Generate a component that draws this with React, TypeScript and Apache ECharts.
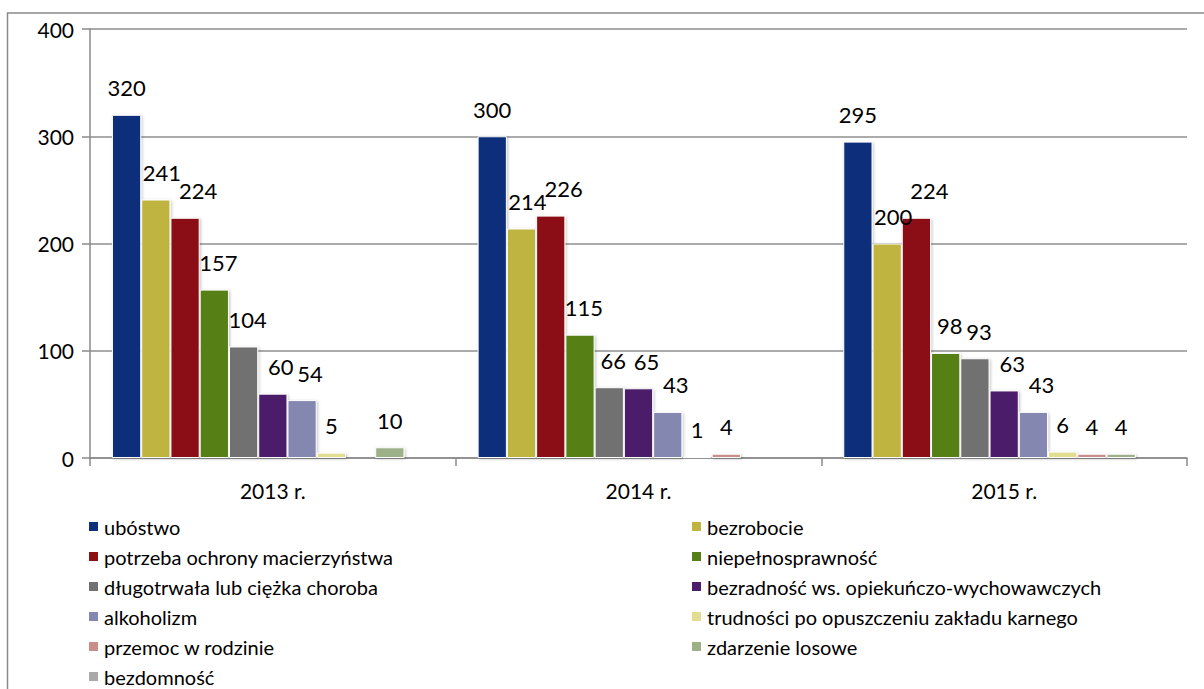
import React, { useEffect, useRef } from "react";
import * as echarts from "echarts";

const categories = ["2013 r.", "2014 r.", "2015 r."];
const seriesNames = [
  "ubóstwo",
  "bezrobocie",
  "potrzeba ochrony macierzyństwa",
  "niepełnosprawność",
  "długotrwała lub ciężka choroba",
  "bezradność ws. opiekuńczo-wychowawczych",
  "alkoholizm",
  "trudności po opuszczeniu zakładu karnego",
  "przemoc w rodzinie",
  "zdarzenie losowe",
  "bezdomność",
];
const ubostwo = [320, 300, 295];
const bezrobocie = [241, 214, 200];
const potrzeba = [224, 226, 224];
const niepelnosprawnosc = [157, 115, 98];
const choroba = [104, 66, 93];
const bezradnosc = [60, 65, 63];
const alkoholizm = [54, 43, 43];
const trudnosci = [5, 1, 6];
const przemoc = [0, 4, 4];
const zdarzenie = [10, 0, 4];
const bezdomnosc = [0, 0, 0];
const seriesValues = [
  ubostwo, bezrobocie, potrzeba, niepelnosprawnosc, choroba, bezradnosc,
  alkoholizm, trudnosci, przemoc, zdarzenie, bezdomnosc,
];
const colors = [
  "#0E2F7A", "#BFB43F", "#8B1112", "#577F19", "#717171", "#4B1E6B",
  "#8488B0", "#E2DD91", "#C98E8C", "#9CB187", "#A9A9A9",
];
const labelShift = [0, 6, 13, 4, 4, 8, 8, 0, 0, 0, 0];
const yTicks = [0, 100, 200, 300, 400];

const FONT = "Lato, 'Liberation Sans', sans-serif";

export default function App() {
  const ref = useRef<HTMLDivElement>(null);
  useEffect(() => {
    if (!ref.current) return;
    const chart = echarts.init(ref.current, null, { renderer: "svg" });
    const leftNames = seriesNames.filter((_, i) => i % 2 === 0);
    const rightNames = seriesNames.filter((_, i) => i % 2 === 1);
    const legendCommon = {
      orient: "vertical" as const,
      top: 516,
      height: 190,
      padding: 0,
      itemWidth: 11,
      itemHeight: 11,
      itemGap: 9,
      icon: "rect",
      textStyle: { fontFamily: FONT, fontSize: 20, color: "#000", lineHeight: 21 },
      selectedMode: false,
    };
    chart.setOption({
      animation: false,
      color: colors,
      textStyle: { fontFamily: FONT },
      graphic: [
        {
          type: "rect",
          shape: { x: 7.5, y: 13, width: 1400, height: 900 },
          style: { fill: "none", stroke: "#8a8a8a", lineWidth: 1.5 },
        },
      ],
      grid: { left: 90, right: 17, top: 29, bottom: 231 },
      legend: [
        { ...legendCommon, left: 87, data: leftNames },
        { ...legendCommon, left: 690, data: rightNames },
      ],
      xAxis: {
        type: "category",
        data: categories,
        axisLine: { show: true, lineStyle: { color: "#8a8a8a", width: 1.5 } },
        axisTick: { show: true, length: 8, lineStyle: { color: "#8a8a8a", width: 1.5 } },
        axisLabel: { fontFamily: FONT, fontSize: 21, color: "#000", margin: 22 },
      },
      yAxis: {
        type: "value",
        min: yTicks[0],
        max: yTicks[yTicks.length - 1],
        interval: 100,
        axisLine: { show: true, lineStyle: { color: "#8a8a8a", width: 1.5 } },
        axisTick: { show: true, length: 8, lineStyle: { color: "#8a8a8a", width: 1.5 } },
        axisLabel: { fontFamily: FONT, fontSize: 21, color: "#000", margin: 16 },
        splitLine: { show: true, lineStyle: { color: "#8f8f8f", width: 1.5 } },
      },
      series: seriesNames.map((name, i) => ({
        name,
        type: "bar",
        data: seriesValues[i],
        barGap: "0%",
        barCategoryGap: "12%",
        itemStyle: {
          color: colors[i],
          borderColor: "#ffffff",
          borderWidth: 1,
          shadowColor: "rgba(0,0,0,0.25)",
          shadowBlur: 3,
          shadowOffsetX: 1,
          shadowOffsetY: 1,
        },
        label: {
          show: true,
          position: "top",
          distance: 16,
          offset: [labelShift[i], 0],
          fontFamily: FONT,
          fontSize: 22,
          color: "#000",
          formatter: (p: any) => (p.value === 0 ? "" : String(p.value)),
        },
      })),
    });
    return () => chart.dispose();
  }, []);
  return (
    <div
      ref={ref}
      style={{ position: "absolute", left: 0, top: 0, width: 1204, height: 689, background: "#fff" }}
    />
  );
}
